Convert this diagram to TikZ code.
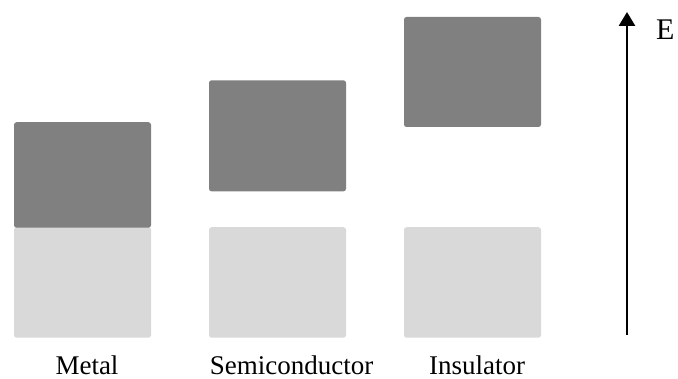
\documentclass[tikz,border=0pt]{standalone}
\usepackage{fontspec}
\setmainfont{Liberation Serif}
\usetikzlibrary{arrows.meta}
\definecolor{bandDark}{HTML}{808080}
\definecolor{bandLight}{HTML}{D9D9D9}
\tikzset{
  band/.style={rectangle, rounded corners=2.5pt, inner sep=0pt, draw=none, minimum width=137pt},
  conduction/.style={band, fill=bandDark},
  valence/.style={band, fill=bandLight},
  caption/.style={anchor=base, inner sep=0pt, font=\fontsize{27}{32}\selectfont},
  axislabel/.style={anchor=base west, inner sep=0pt, font=\fontsize{30}{35}\selectfont},
  axisarrow/.style={line width=2.8pt, -{Triangle[length=14pt,width=16pt]}}
}
\begin{document}
\begin{tikzpicture}[x=1pt,y=-1pt]
\useasboundingbox (0,0) rectangle (678,379);
% Metal
\node[valence, minimum height=110.5pt] (mv) at (82.5,282.5) {};
\node[conduction, minimum height=105.5pt] (mc) at (82.5,175) {};
% Semiconductor
\node[conduction, minimum height=111pt] (sc) at (277.5,135.8) {};
\node[valence, minimum height=110.5pt] (sv) at (277.5,282.5) {};
% Insulator
\node[conduction, minimum height=110pt] (ic) at (472.5,72) {};
\node[valence, minimum height=110.5pt] (iv) at (472.5,282.5) {};
% labels
\node[caption] (lm) at (87,374.5) {Metal};
\node[caption] (ls) at (291.5,374.5) {Semiconductor};
\node[caption] (li) at (477,374.5) {Insulator};
% energy axis
\coordinate (abot) at (627,335);
\coordinate (atop) at (627,12);
\draw[axisarrow] (abot) -- (atop);
\node[axislabel] (le) at (656,39.5) {E};
\end{tikzpicture}
\end{document}
